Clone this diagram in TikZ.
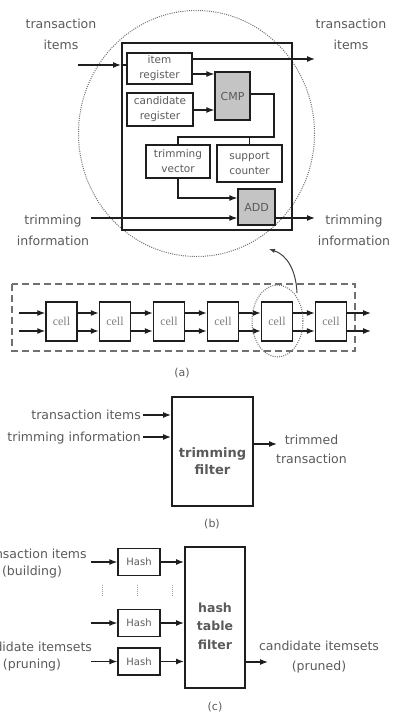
\documentclass[tikz,border=0pt]{standalone}
\usepackage{fontspec}
\setmainfont{DejaVu Sans}
\newfontfamily\cellfont{Liberation Serif}
\usetikzlibrary{arrows.meta}
\definecolor{txt}{HTML}{5A5A5A}
\definecolor{ln}{HTML}{1E1E1E}
\definecolor{fillg}{HTML}{C4C4C4}
\definecolor{dotc}{HTML}{707070}
\tikzset{
  lbl/.style={text=txt, font=\fontsize{12.5}{21}\selectfont, align=center, inner sep=0pt},
  blk/.style={draw=ln, line width=1.3pt, text=txt, font=\fontsize{10.5}{15}\selectfont, align=center, inner sep=0pt},
  bigbox/.style={draw=ln, line width=2pt, inner sep=0pt},
  cellbox/.style={draw=ln, line width=1.4pt, minimum width=31pt, minimum height=39pt, inner sep=0pt, text=gray, font=\cellfont\fontsize{12}{14}\selectfont},
  hashbox/.style={draw=ln, line width=1.3pt, minimum width=42pt, minimum height=27pt, inner sep=0pt, text=txt, font=\fontsize{10}{12}\selectfont},
  arr/.style={draw=ln, line width=1.2pt, -{Latex[length=8pt,width=6pt]}},
  wire/.style={draw=ln, line width=1.2pt},
  boldlbl/.style={text=txt, font=\bfseries\fontsize{12.5}{18.5}\selectfont, align=center, inner sep=0pt},
  dotline/.style={draw=dotc, line width=1pt, dash pattern=on 1pt off 1.2pt},
}
\begin{document}
\begin{tikzpicture}[x=1pt,y=-1pt]
\useasboundingbox (0,0) rectangle (395,713);
% ---------------- (a) top: cell detail ----------------
\draw[dotline] (196.5,133.5) ellipse [x radius=118pt, y radius=123pt];
\node[bigbox, minimum width=170pt, minimum height=187pt] (big) at (207,136.5) {};
\node[blk, minimum width=65pt, minimum height=31pt] (ir) at (159.5,68.5) {item\\register};
\node[blk, minimum width=66pt, minimum height=33pt] (cr) at (160,109.5) {candidate\\register};
\node[blk, fill=fillg, minimum width=35pt, minimum height=48pt, font=\fontsize{11}{13}\selectfont] (cmp) at (232.5,96) {CMP};
\node[blk, minimum width=64pt, minimum height=33pt] (tv) at (178,161.5) {trimming\\vector};
\node[blk, minimum width=65pt, minimum height=37pt] (sc) at (249.5,163.5) {support\\counter};
\node[blk, fill=fillg, minimum width=37pt, minimum height=36pt, font=\fontsize{11}{13}\selectfont] (add) at (256.5,207) {ADD};

\node[lbl] (tiLt) at (61,34) {transaction\\items};
\node[lbl] (tiRt) at (351,34) {transaction\\items};
\node[lbl] (trLt) at (53,230) {trimming\\information};
\node[lbl] (trRt) at (354,230) {trimming\\information};

\coordinate (inA) at (78,65);
\coordinate (outA) at (315,59);
\coordinate (inT) at (91,218);
\coordinate (outT) at (315,218);
\coordinate (yIr) at (0,74);
\coordinate (yCr) at (0,110);
\coordinate (yCmp) at (0,94);
\coordinate (turn) at (274,137);
\coordinate (yTv) at (0,198);

\draw[arr] (inA) -- (inA -| big.west);
\draw[wire] (inA -| big.west) -- (inA -| ir.west);
\draw[arr] (outA -| ir.east) -- (outA);
\draw[arr] (yIr -| ir.east) -- (yIr -| cmp.west);
\draw[arr] (yCr -| cr.east) -- (yCr -| cmp.west);
\draw[wire] (yCmp -| cmp.east) -| (turn) -| (tv.north);
\draw[wire] (turn -| sc.north) -- (sc.north);
\draw[arr] (tv.south) |- (yTv -| add.west);
\draw[arr] (inT) -- (inT -| add.west);
\draw[arr] (inT -| add.east) -- (outT);

% ---------------- (a) bottom: cell chain ----------------
\draw[draw=dotc, line width=1.5pt, dash pattern=on 7pt off 4pt] (12,284) rectangle (355,351);
\foreach \i/\x in {1/61.5,2/115,3/169,4/223,5/277,6/331}{
  \node[cellbox] (c\i) at (\x,321.5) {cell};
}
\coordinate (chinA) at (19,313);
\coordinate (chinB) at (19,331);
\coordinate (choutA) at (371,313);
\coordinate (choutB) at (371,331);
\draw[arr] (chinA) -- (chinA -| c1.west);
\draw[arr] (chinB) -- (chinB -| c1.west);
\foreach \a/\b in {1/2,2/3,3/4,4/5,5/6}{
  \draw[arr] (chinA -| c\a.east) -- (chinA -| c\b.west);
  \draw[arr] (chinB -| c\a.east) -- (chinB -| c\b.west);
}
\draw[arr] (chinA -| c6.east) -- (choutA);
\draw[arr] (chinB -| c6.east) -- (choutB);
\draw[dotline] (277.5,321) ellipse [x radius=25.5pt, y radius=36pt];
\coordinate (zoomS) at (297,293);
\coordinate (zoomE) at (269,249);
\draw[draw=ln!85, line width=1pt, -{Latex[length=6pt,width=4.5pt]}] (zoomS) .. controls (296,270) and (287,255) .. (zoomE);
\node[text=txt, font=\fontsize{11}{13}\selectfont] (capa) at (182,373) {(a)};

% ---------------- (b) trimming filter ----------------
\node[bigbox, minimum width=81pt, minimum height=109pt] (tf) at (212.5,451.5) {};
\node[boldlbl, font=\bfseries\fontsize{13}{17.5}\selectfont] (tftxt) at (212.5,461) {trimming\\filter};
\node[lbl, anchor=base east] (bti) at (141,419) {transaction items};
\node[lbl, anchor=base east] (btr) at (141,441) {trimming information};
\coordinate (bA) at (143,415);
\coordinate (bB) at (143,437);
\coordinate (bO) at (277,444);
\draw[arr] (bA) -- (bA -| tf.west);
\draw[arr] (bB) -- (bB -| tf.west);
\draw[arr] (bO -| tf.east) -- (bO);
\node[lbl, font=\fontsize{12.5}{18.5}\selectfont] (btt) at (311.5,449.5) {trimmed\\transaction};
\node[text=txt, font=\fontsize{11}{13}\selectfont] (capb) at (212,524) {(b)};

% ---------------- (c) hash table filter ----------------
\node[bigbox, minimum width=60pt, minimum height=141pt] (htf) at (215,617.5) {};
\node[boldlbl] (htftxt) at (215,626) {hash\\table\\filter};
\node[hashbox] (h1) at (139,562) {Hash};
\node[hashbox] (h2) at (139,623) {Hash};
\node[hashbox] (h3) at (139,661.5) {Hash};
\coordinate (xin) at (91,0);
\foreach \h in {1,2,3}{
  \draw[arr] (h\h.west -| xin) -- (h\h.west);
  \draw[arr] (h\h.east) -- (h\h.east -| htf.west);
}
\foreach \x in {102,137,172}{
  \draw[draw=dotc!70, line width=0.8pt, dash pattern=on 1pt off 1pt] (\x,585) -- (\x,597);
}
\node[lbl, font=\fontsize{12.5}{17}\selectfont] (cti) at (32,564) {transaction items\\(building)};
\node[lbl, font=\fontsize{12.5}{17}\selectfont] (cci) at (32,657) {candidate itemsets\\(pruning)};
\coordinate (cO) at (268,662);
\draw[arr] (cO -| htf.east) -- (cO);
\node[lbl, font=\fontsize{12.5}{20}\selectfont] (cpr) at (319,657) {candidate itemsets\\(pruned)};
\node[text=txt, font=\fontsize{11}{13}\selectfont] (capc) at (215,707) {(c)};
\end{tikzpicture}
\end{document}
